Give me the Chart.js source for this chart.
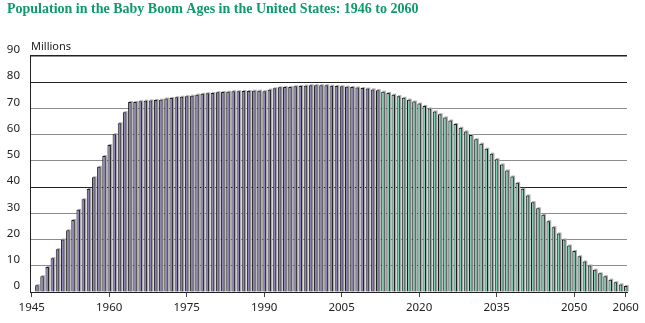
<!DOCTYPE html>
<html>
<head>
<meta charset="utf-8">
<title>Population in the Baby Boom Ages</title>
<script src="https://cdn.jsdelivr.net/npm/chart.js@4.4.1/dist/chart.umd.min.js"></script>
<style>
  html, body { margin: 0; padding: 0; background: #fff; }
  #wrap { width: 645px; height: 323px; }
</style>
</head>
<body>
<div id="wrap"><canvas id="boom-chart"></canvas></div>
<script>
// one bar per year, 1946 through 2060
const years = Array.from({ length: 115 }, (_, i) => 1946 + i);

// millions of people in the baby boom ages
const population = [
  2.6, 6.0, 9.5, 12.9,                                          // 1946-1949
  16.3, 20.0, 23.5, 27.4, 31.3, 35.3, 39.2, 43.7, 47.7, 51.8,   // 1950s
  56.0, 60.1, 64.3, 68.5, 72.4, 72.4, 72.7, 72.9, 73.0, 73.2,   // 1960s
  73.3, 73.7, 73.9, 74.2, 74.4, 74.6, 74.8, 75.2, 75.5, 75.7,   // 1970s
  75.8, 76.1, 76.2, 76.3, 76.5, 76.5, 76.6, 76.6, 76.7, 76.7,   // 1980s
  76.5, 77.1, 77.6, 78.0, 78.1, 78.1, 78.4, 78.5, 78.6, 78.8,   // 1990s
  78.8, 78.8, 78.8, 78.6, 78.5, 78.4, 78.2, 78.1, 77.9, 77.7,   // 2000s
  77.5, 77.2, 76.9, 76.3, 75.8, 75.2, 74.6, 74.0, 73.3, 72.6,   // 2010s
  71.8, 70.9, 69.9, 68.8, 67.7, 66.5, 65.3, 64.0, 62.6, 61.2,   // 2020s
  59.8, 58.2, 56.5, 54.6, 52.7, 50.6, 48.6, 46.3, 44.0, 41.6,   // 2030s
  39.3, 36.8, 34.2, 31.9, 29.4, 27.0, 24.7, 22.3, 20.0, 17.7,   // 2040s
  15.6, 13.6, 11.6, 10.1, 8.5, 7.1, 6.0, 4.7, 3.7, 2.9,         // 2050s
  2.3                                                           // 2060
];

// bars from this year on are projections
const firstProjectionYear = 2013;

const yearTicks = [1945, 1960, 1975, 1990, 2005, 2020, 2035, 2050, 2060];
const valueTicks = [0, 10, 20, 30, 40, 50, 60, 70, 80, 90];

const estimateColor = '#8e82b3';
const projectionColor = '#7dd0b2';

// gray drop shadow on the right of every bar
const barShade = {
  id: 'barShade',
  beforeDatasetsDraw(chart) {
    const ctx = chart.ctx;
    ctx.save();
    ctx.fillStyle = '#ababab';
    chart.getDatasetMeta(0).data.forEach(bar => {
      const p = bar.getProps(['x', 'y', 'base', 'width'], true);
      ctx.fillRect(p.x - p.width / 2 + 1.2, p.y - 1, p.width, p.base - p.y + 1);
    });
    ctx.restore();
  }
};

// unit caption above the value axis
const unitLabel = {
  id: 'unitLabel',
  afterDraw(chart) {
    const ctx = chart.ctx;
    ctx.save();
    ctx.font = '11px "Noto Sans", sans-serif';
    ctx.fillStyle = '#222';
    ctx.textAlign = 'left';
    ctx.textBaseline = 'alphabetic';
    ctx.fillText('Millions', chart.chartArea.left + 1, chart.chartArea.top - 6);
    ctx.restore();
  }
};

const tickFont = { family: '"Noto Sans", sans-serif', size: 11.5 };

new Chart(document.getElementById('boom-chart'), {
  type: 'bar',
  data: {
    datasets: [{
      label: 'Population in the baby boom ages',
      data: years.map((y, i) => ({ x: y, y: population[i] })),
      backgroundColor: ctx => (years[ctx.dataIndex] >= firstProjectionYear ? projectionColor : estimateColor),
      borderColor: '#1c1c1c',
      borderWidth: 1,
      borderSkipped: 'bottom',
      barPercentage: 0.68,
      categoryPercentage: 1,
      clip: false
    }]
  },
  options: {
    responsive: true,
    maintainAspectRatio: false,
    animation: false,
    layout: { padding: { left: 7, right: 18, top: 0, bottom: 0 } },
    plugins: {
      legend: { display: false },
      tooltip: { enabled: false },
      title: {
        display: true,
        text: 'Population in the Baby Boom Ages in the United States: 1946 to 2060',
        align: 'start',
        color: '#0f9a6c',
        font: { family: '"Liberation Serif", serif', size: 14, weight: 'bold' },
        padding: { top: 1, bottom: 38 }
      }
    },
    scales: {
      x: {
        type: 'linear',
        offset: false,
        min: 1944.67,
        max: 2060.25,
        afterBuildTicks: scale => { scale.ticks = yearTicks.map(v => ({ value: v })); },
        afterFit: scale => { scale.height = 31; },
        grid: { offset: false, drawOnChartArea: false, drawTicks: true, tickLength: 5, color: '#444' },
        border: { color: '#222', width: 1 },
        ticks: {
          autoSkip: false,
          maxRotation: 0,
          padding: 4,
          color: '#222',
          font: tickFont,
          callback: v => String(v)
        }
      },
      y: {
        min: 0,
        max: 90,
        afterBuildTicks: scale => { scale.ticks = valueTicks.map(v => ({ value: v })); },
        afterFit: scale => { scale.width = 23; },
        grid: {
          drawTicks: false,
          color: ctx => ([40, 80, 90].includes(ctx.tick.value) ? '#222' : '#8c8c8c'),
          lineWidth: ctx => (ctx.tick.value === 90 ? 1.5 : 1)
        },
        border: { color: '#222', width: 1 },
        ticks: {
          padding: 10,
          labelOffset: -6,
          color: '#222',
          font: tickFont
        }
      }
    }
  },
  plugins: [barShade, unitLabel]
});
</script>
</body>
</html>
